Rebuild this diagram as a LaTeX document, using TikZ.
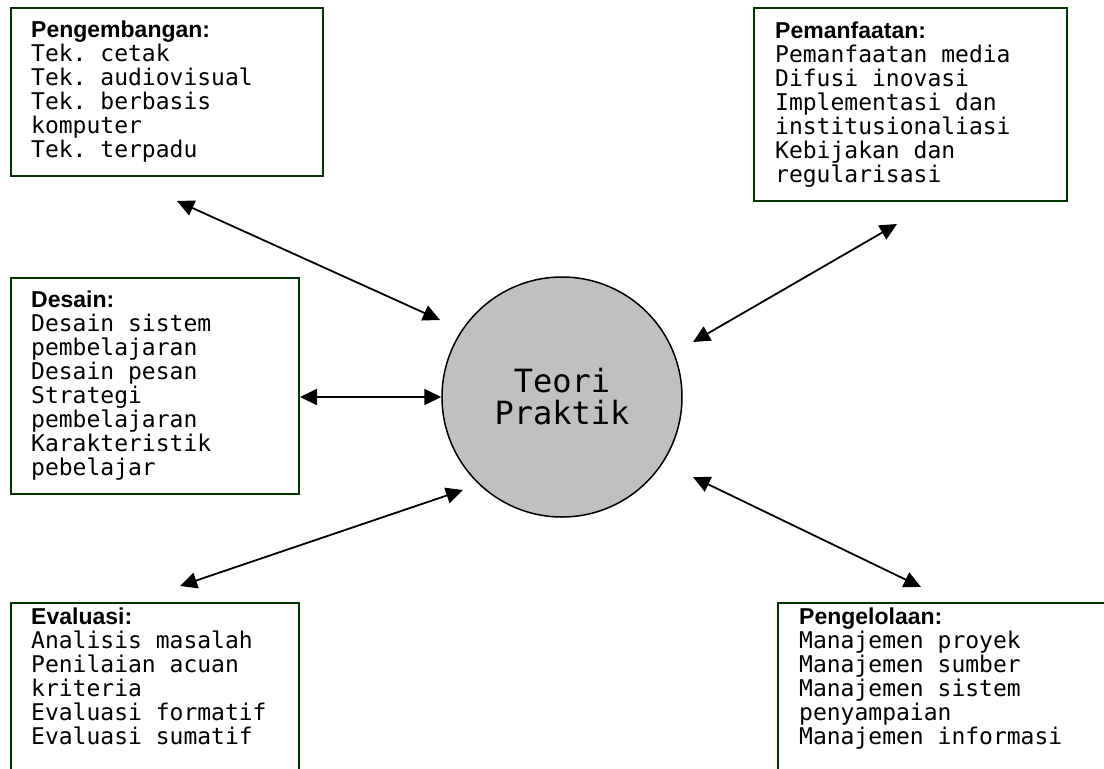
\documentclass[tikz,border=0pt]{standalone}
\usepackage{fontspec}
\setmonofont{DejaVu Sans Mono}
\newfontfamily\headfont{Liberation Sans}
\usetikzlibrary{arrows.meta}
\definecolor{boxgreen}{RGB}{0,51,0}
\definecolor{circgray}{RGB}{192,192,192}

\begin{document}
\begin{tikzpicture}[x=1pt, y=-1pt,
                box/.style={rectangle, draw=boxgreen, line width=2pt, fill=white, anchor=north west, inner sep=0pt},
                boxtext/.style={anchor=north west, align=left, inner sep=0pt, font=\ttfamily\fontsize{23}{24}\selectfont},
                link/.style={{Triangle[length=17pt,width=16pt]}-{Triangle[length=17pt,width=16pt]}, line width=1.8pt}]
        \newcommand{\heading}[1]{{\headfont\bfseries\fontsize{23}{24}\selectfont #1}}

                % Frame of the page
                \fill[white] (0,0) rectangle (1104,769);
                \useasboundingbox (0,0) rectangle (1104,769);
                \clip (0,0) rectangle (1104,769);

                % Define boxes
                \node[box, minimum width=312pt, minimum height=168pt] (pengembangan) at (10,7) {}; % top left
                \node[box, minimum width=313pt, minimum height=193pt] (pemanfaatan) at (753,7) {}; % top right
                \node[box, minimum width=288pt, minimum height=216pt] (desain) at (10,277) {}; % middle left
                \node[box, minimum width=288pt, minimum height=200pt] (evaluasi) at (10,602) {}; % bottom left
                \node[box, minimum width=360pt, minimum height=200pt] (pengelolaan) at (777,602) {}; % bottom right

                % Texts in the boxes
                \node[boxtext] (pengembangan-t) at ([shift={(21,14)}]pengembangan.north west)
                        {\heading{Pengembangan:}\\Tek. cetak\\Tek. audiovisual\\Tek. berbasis\\komputer\\Tek. terpadu};
                \node[boxtext] (pemanfaatan-t) at ([shift={(22,15)}]pemanfaatan.north west)
                        {\heading{Pemanfaatan:}\\Pemanfaatan media\\Difusi inovasi\\Implementasi dan\\institusionaliasi\\Kebijakan dan\\regularisasi};
                \node[boxtext] (desain-t) at ([shift={(21,14)}]desain.north west)
                        {\heading{Desain:}\\Desain sistem\\pembelajaran\\Desain pesan\\Strategi\\pembelajaran\\Karakteristik\\pebelajar};
                \node[boxtext] (evaluasi-t) at ([shift={(21,6)}]evaluasi.north west)
                        {\heading{Evaluasi:}\\Analisis masalah\\Penilaian acuan\\kriteria\\Evaluasi formatif\\Evaluasi sumatif};
                \node[boxtext] (pengelolaan-t) at ([shift={(22,6)}]pengelolaan.north west)
                        {\heading{Pengelolaan:}\\Manajemen proyek\\Manajemen sumber\\Manajemen sistem\\penyampaian\\Manajemen informasi};

                % Centre node
                \node[circle, draw=black, line width=1.5pt, fill=circgray, minimum size=240pt, inner sep=0pt,
                      align=center, font=\ttfamily\fontsize{32}{32}\selectfont] (teori) at (562,397) {Teori\\Praktik};

                % Free ends of the arrows
                \coordinate (a1) at (177,201);
                \coordinate (b1) at (440,320);
                \coordinate (a2) at (897,224);
                \coordinate (b2) at (693,342);
                \coordinate (a4) at (180,586);
                \coordinate (b4) at (463,490);
                \coordinate (a5) at (921,587);
                \coordinate (b5) at (693,477);

                % Define arrows
                \draw[link] (a1) -- (b1);
                \draw[link] (a2) -- (b2);
                \draw[link] (teori.west -| desain.east) -- (teori.west);
                \draw[link] (a4) -- (b4);
                \draw[link] (a5) -- (b5);
\end{tikzpicture}
\end{document}
